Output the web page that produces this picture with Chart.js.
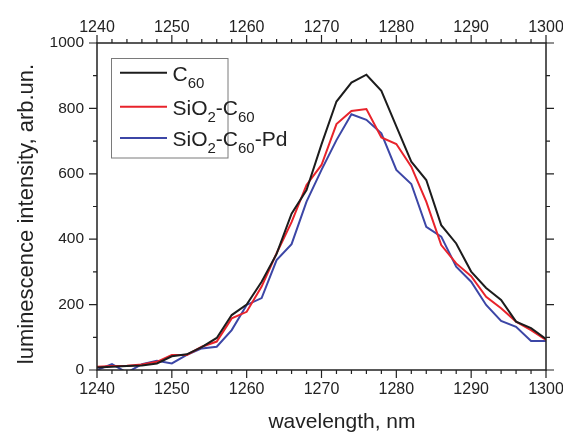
<!DOCTYPE html>
<html>
<head>
<meta charset="utf-8">
<script src="https://cdn.jsdelivr.net/npm/chart.js@4"></script>
<style>
  html, body { margin: 0; padding: 0; background: #ffffff; }
  #wrap { position: relative; width: 563px; height: 432px; }
</style>
</head>
<body>
<div id="wrap"><canvas id="spectrum" width="563" height="432"></canvas></div>
<script>
// === DATA ===
const wavelengths = [1240, 1242, 1244, 1246, 1248, 1250, 1252, 1254, 1256, 1258, 1260,
                     1262, 1264, 1266, 1268, 1270, 1272, 1274, 1276, 1278, 1280,
                     1282, 1284, 1286, 1288, 1290, 1292, 1294, 1296, 1298, 1300];
const c60 = [8, 10, 12, 14, 20, 42, 48, 70, 98, 168, 200,
             270, 355, 478, 550, 690, 821, 879, 903, 854, 745,
             637, 581, 443, 387, 301, 251, 214, 148, 128, 95];
const sio2C60 = [10, 12, 13, 17, 25, 46, 46, 71, 87, 158, 178,
                 255, 357, 452, 566, 627, 752, 792, 798, 711, 691,
                 622, 515, 382, 326, 287, 224, 189, 148, 122, 92];
const sio2C60Pd = [0, 18, -8, 18, 28, 20, 46, 66, 71, 122, 199,
                   220, 336, 385, 515, 612, 703, 782, 765, 724, 612,
                   569, 438, 408, 316, 270, 199, 150, 132, 89, 89];

const xTicks = [1240, 1250, 1260, 1270, 1280, 1290, 1300];
const yTicks = [0, 200, 400, 600, 800, 1000];

const FONT = "'Liberation Sans', Arial, sans-serif";
const INK = '#222222';

const series = [
    { main: 'C', sub: '60', rest: '', values: c60, color: '#1c1c1c' },
    { main: 'SiO', sub: '2', rest: '-C', sub2: '60', values: sio2C60, color: '#e8232b' },
    { main: 'SiO', sub: '2', rest: '-C', sub2: '60', rest2: '-Pd', values: sio2C60Pd, color: '#3c46a6' },
];

// === FRAME, TICKS, TITLES, LEGEND ===
const framePlugin = {
    id: 'frame',
    afterDraw(chart) {
        const ctx = chart.ctx;
        const a = chart.chartArea;
        const xs = chart.scales.x, ys = chart.scales.y;
        ctx.save();
        ctx.strokeStyle = INK;
        ctx.lineWidth = 1.5;
        ctx.strokeRect(a.left, a.top, a.right - a.left, a.bottom - a.top);

        // minor every 2 nm, major every 10 nm
        ctx.lineWidth = 1.2;
        ctx.beginPath();
        for (let v = 1240; v <= 1300; v += 2) {
            const px = xs.getPixelForValue(v);
            const len = v % 10 === 0 ? 8 : 4;
            ctx.moveTo(px, a.bottom); ctx.lineTo(px, a.bottom + len);
            ctx.moveTo(px, a.top); ctx.lineTo(px, a.top - len);
        }
        for (let v = 0; v <= 1000; v += 100) {
            const py = ys.getPixelForValue(v);
            const len = v % 200 === 0 ? 8 : 4;
            ctx.moveTo(a.left, py); ctx.lineTo(a.left - len, py);
            ctx.moveTo(a.right, py); ctx.lineTo(a.right + len, py);
        }
        ctx.stroke();

        // axis titles
        ctx.fillStyle = INK;
        ctx.font = '21px ' + FONT;
        ctx.textAlign = 'center';
        ctx.textBaseline = 'alphabetic';
        ctx.fillText('wavelength, nm', 342, 428);
        ctx.save();
        ctx.translate(33, 214);
        ctx.rotate(-Math.PI / 2);
        ctx.font = '22px ' + FONT;
        ctx.fillText('luminescence intensity, arb.un.', 0, 0);
        ctx.restore();

        // legend with subscripts
        ctx.strokeStyle = '#7a7a7a';
        ctx.lineWidth = 1;
        ctx.strokeRect(111.5, 58.5, 116.5, 99.5);
        const rows = [72.7, 106.7, 138];
        ctx.textAlign = 'left';
        series.forEach((s, i) => {
            const y = rows[i];
            ctx.strokeStyle = s.color;
            ctx.lineWidth = 2;
            ctx.beginPath();
            ctx.moveTo(120, y); ctx.lineTo(167, y);
            ctx.stroke();
            let x = 172.5;
            const base = y + 8;
            const parts = [[s.main, false], [s.sub, true], [s.rest, false], [s.sub2, true], [s.rest2, false]];
            ctx.fillStyle = INK;
            parts.forEach(([t, isSub]) => {
                if (!t) return;
                ctx.font = (isSub ? '15px ' : '21px ') + FONT;
                ctx.fillText(t, x, isSub ? base + 7 : base);
                x += ctx.measureText(t).width;
            });
        });
        ctx.restore();
    }
};

const tickFont = { family: FONT, size: 16 };
const plain = v => String(v);
// fixed box sizes so the plot area lands where the reference has it
const fixH = h => s => { s.height = h; s.paddingLeft = 0; s.paddingRight = 0; };
const fixW = w => s => { s.width = w; s.paddingTop = 0; s.paddingBottom = 0; };

new Chart(document.getElementById('spectrum'), {
    type: 'line',
    data: {
        datasets: series.map(s => ({
            data: wavelengths.map((w, i) => ({ x: w, y: s.values[i] })),
            borderColor: s.color,
            borderWidth: 2,
            pointRadius: 0,
            tension: 0,
            fill: false
        }))
    },
    options: {
        responsive: false,
        animation: false,
        layout: { padding: 0 },
        plugins: { legend: { display: false }, tooltip: { enabled: false } },
        scales: {
            x: {
                type: 'linear', position: 'bottom', min: 1240, max: 1300,
                afterBuildTicks: s => { s.ticks = xTicks.map(v => ({ value: v })); },
                afterFit: fixH(62),
                grid: { display: false, drawTicks: false },
                border: { display: false },
                ticks: { font: tickFont, color: INK, padding: 10, maxRotation: 0, callback: plain }
            },
            x2: {
                type: 'linear', position: 'top', min: 1240, max: 1300,
                afterBuildTicks: s => { s.ticks = xTicks.map(v => ({ value: v })); },
                afterFit: fixH(43),
                grid: { display: false, drawTicks: false },
                border: { display: false },
                ticks: { font: tickFont, color: INK, padding: 6, maxRotation: 0, callback: plain }
            },
            y: {
                type: 'linear', position: 'left', min: 0, max: 1000,
                afterBuildTicks: s => { s.ticks = yTicks.map(v => ({ value: v })); },
                afterFit: fixW(97),
                grid: { display: false, drawTicks: false },
                border: { display: false },
                ticks: { font: { family: FONT, size: 15.5 }, color: INK, padding: 13, callback: plain }
            },
            y2: {
                type: 'linear', position: 'right', min: 0, max: 1000,
                afterFit: fixW(17),
                grid: { display: false, drawTicks: false },
                border: { display: false },
                ticks: { display: false }
            }
        }
    },
    plugins: [framePlugin]
});
</script>
</body>
</html>
